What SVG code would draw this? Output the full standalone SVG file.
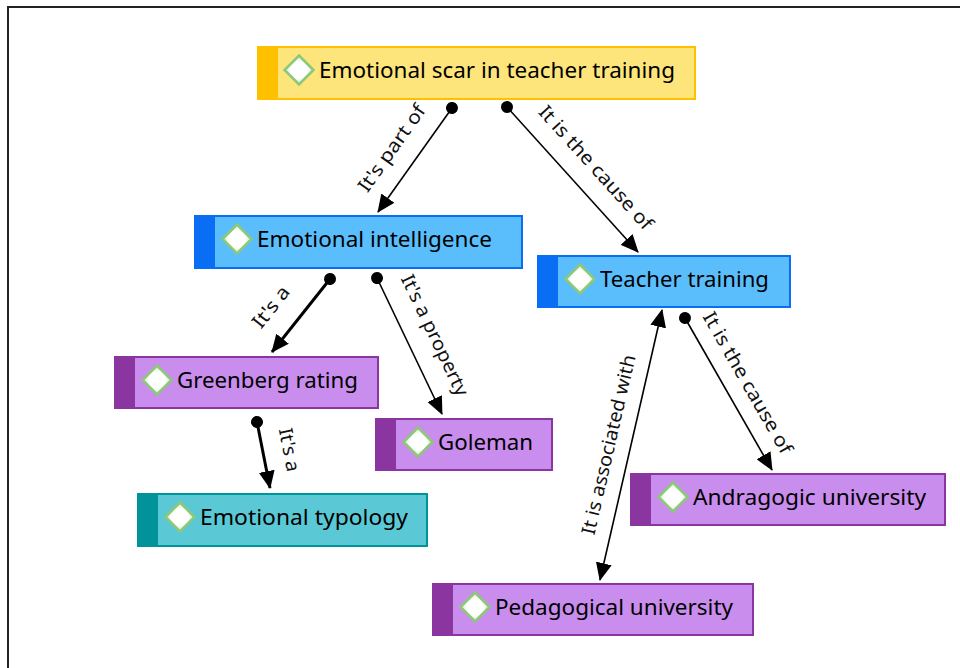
<svg xmlns="http://www.w3.org/2000/svg" width="960" height="668" viewBox="0 0 960 668">
<defs>
<marker id="arr" markerUnits="userSpaceOnUse" markerWidth="18" markerHeight="16" refX="17" refY="8" orient="auto"><path d="M0,0 L18,8 L0,16 Z" fill="#000"/></marker>
<marker id="arrs" markerUnits="userSpaceOnUse" markerWidth="18" markerHeight="16" refX="17" refY="8" orient="auto-start-reverse"><path d="M0,0 L18,8 L0,16 Z" fill="#000"/></marker>
<marker id="dot" markerUnits="userSpaceOnUse" markerWidth="14" markerHeight="14" refX="7" refY="7" orient="auto"><circle cx="7" cy="7" r="6" fill="#000"/></marker>
<radialGradient id="dg" cx="0.5" cy="0.5" r="0.5"><stop offset="0.55" stop-color="#fff"/><stop offset="1" stop-color="#cfe8c0"/></radialGradient>
<path id="dia" d="M0,-14.5 L14.5,0 L0,14.5 L-14.5,0 Z"/>
</defs>
<style>
.lbl{font-family:"Noto Sans","Open Sans","DejaVu Sans",sans-serif;font-size:22px;fill:#000}
.cl{font-family:"Noto Sans","Open Sans","DejaVu Sans",sans-serif;font-size:19px;fill:#111;text-anchor:middle}
.dm{fill:url(#dg);stroke:#8cc878;stroke-width:2.5}
.ln{fill:none;stroke:#000;stroke-width:1.6}
.thick{stroke-width:3}
.y .bd{fill:#fde57c;stroke:#ffc000;stroke-width:2}.y .bn{fill:#ffc000}
.b .bd{fill:#5bbefc;stroke:#0a6ef5;stroke-width:2}.b .bn{fill:#0a6ef5}
.p .bd{fill:#c98dee;stroke:#8b35a0;stroke-width:2}.p .bn{fill:#8b35a0}
.t .bd{fill:#5bc9d5;stroke:#00949a;stroke-width:2}.t .bn{fill:#00949a}
</style>
<rect x="8" y="7" width="1000" height="1000" fill="#fff" stroke="#222" stroke-width="2"/>

<g id="connectors">
<path class="ln" d="M452,108 L378,212" marker-start="url(#dot)" marker-end="url(#arr)"/>
<text class="cl" transform="translate(397,152) rotate(-54.6)" textLength="102" lengthAdjust="spacingAndGlyphs">It's part of</text>
<path class="ln" d="M507,107 L638,252" marker-start="url(#dot)" marker-end="url(#arr)"/>
<text class="cl" transform="translate(591,172) rotate(47.9)" textLength="160" lengthAdjust="spacingAndGlyphs">It is the cause of</text>
<path class="ln thick" d="M330,279 L272,352" marker-start="url(#dot)" marker-end="url(#arr)"/>
<text class="cl" transform="translate(276,311) rotate(-51.5)" textLength="48" lengthAdjust="spacingAndGlyphs">It's a</text>
<path class="ln" d="M377,278 L442,414" marker-start="url(#dot)" marker-end="url(#arr)"/>
<text class="cl" transform="translate(429,338) rotate(64.5)" textLength="132" lengthAdjust="spacingAndGlyphs">It's a property</text>
<path class="ln thick" d="M257,422 L270,488" marker-start="url(#dot)" marker-end="url(#arr)"/>
<text class="cl" transform="translate(283,451) rotate(78.9)" textLength="44" lengthAdjust="spacingAndGlyphs">It's a</text>
<path class="ln" d="M662,310 L600,580" marker-start="url(#arrs)" marker-end="url(#arr)"/>
<text class="cl" transform="translate(615,446) rotate(-77)" textLength="184" lengthAdjust="spacingAndGlyphs">It is associated with</text>
<path class="ln" d="M685,318 L772,470" marker-start="url(#dot)" marker-end="url(#arr)"/>
<text class="cl" transform="translate(742,386) rotate(60.2)" textLength="160" lengthAdjust="spacingAndGlyphs">It is the cause of</text>
</g>

<g id="n1" class="y">
<rect class="bd" x="258" y="47" width="437" height="52"/><rect class="bn" x="258" y="47" width="20" height="52"/>
<use href="#dia" class="dm" x="299" y="70"/>
<text class="lbl" x="319" y="78" textLength="356" lengthAdjust="spacingAndGlyphs">Emotional scar in teacher training</text>
</g>
<g id="n2" class="b">
<rect class="bd" x="195" y="216" width="327" height="52"/><rect class="bn" x="195" y="216" width="20" height="52"/>
<use href="#dia" class="dm" x="237" y="239"/>
<text class="lbl" x="257" y="247" textLength="235" lengthAdjust="spacingAndGlyphs">Emotional intelligence</text>
</g>
<g id="n3" class="b">
<rect class="bd" x="538" y="256" width="252" height="51"/><rect class="bn" x="538" y="256" width="20" height="51"/>
<use href="#dia" class="dm" x="580" y="279"/>
<text class="lbl" x="600" y="287" textLength="169" lengthAdjust="spacingAndGlyphs">Teacher training</text>
</g>
<g id="n4" class="p">
<rect class="bd" x="115" y="357" width="263" height="51"/><rect class="bn" x="115" y="357" width="20" height="51"/>
<use href="#dia" class="dm" x="157" y="380"/>
<text class="lbl" x="177" y="388" textLength="181" lengthAdjust="spacingAndGlyphs">Greenberg rating</text>
</g>
<g id="n5" class="p">
<rect class="bd" x="376" y="419" width="176" height="51"/><rect class="bn" x="376" y="419" width="20" height="51"/>
<use href="#dia" class="dm" x="418" y="442"/>
<text class="lbl" x="438" y="450" textLength="95" lengthAdjust="spacingAndGlyphs">Goleman</text>
</g>
<g id="n6" class="t">
<rect class="bd" x="138" y="494" width="289" height="52"/><rect class="bn" x="138" y="494" width="20" height="52"/>
<use href="#dia" class="dm" x="180" y="517"/>
<text class="lbl" x="200" y="525" textLength="208" lengthAdjust="spacingAndGlyphs">Emotional typology</text>
</g>
<g id="n7" class="p">
<rect class="bd" x="631" y="474" width="314" height="51"/><rect class="bn" x="631" y="474" width="20" height="51"/>
<use href="#dia" class="dm" x="673" y="497"/>
<text class="lbl" x="693" y="505" textLength="233" lengthAdjust="spacingAndGlyphs">Andragogic university</text>
</g>
<g id="n8" class="p">
<rect class="bd" x="433" y="584" width="320" height="51"/><rect class="bn" x="433" y="584" width="20" height="51"/>
<use href="#dia" class="dm" x="475" y="607"/>
<text class="lbl" x="495" y="615" textLength="238" lengthAdjust="spacingAndGlyphs">Pedagogical university</text>
</g>
</svg>
